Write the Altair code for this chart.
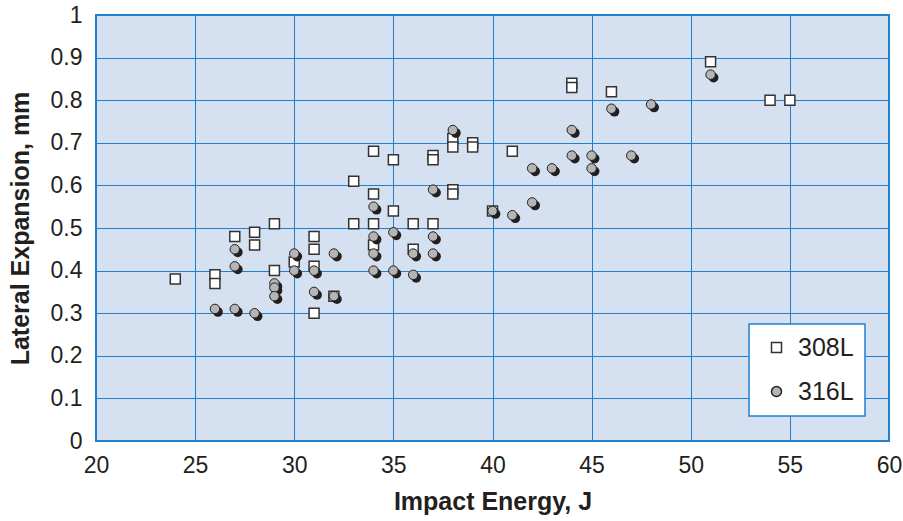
import altair as alt
import pandas as pd

# 308L data (Impact Energy J, Lateral Expansion mm)
x308 = [24, 26, 26, 27, 28, 28, 29, 29, 30, 31,
        31, 31, 31, 32, 33, 33, 34, 34, 34, 34,
        35, 35, 36, 36, 37, 37, 37, 38, 38, 38,
        38, 39, 39, 40, 41, 44, 44, 46, 51, 54,
        55]
y308 = [0.38, 0.39, 0.37, 0.48, 0.49, 0.46, 0.51, 0.40, 0.42, 0.48,
        0.45, 0.41, 0.30, 0.34, 0.61, 0.51, 0.68, 0.58, 0.51, 0.46,
        0.66, 0.54, 0.51, 0.45, 0.67, 0.66, 0.51, 0.71, 0.69, 0.59,
        0.58, 0.70, 0.69, 0.54, 0.68, 0.84, 0.83, 0.82, 0.89, 0.80,
        0.80]

# 316L data
x316 = [26, 27, 27, 27, 28, 29, 29, 29, 30, 30,
        31, 31, 32, 32, 34, 34, 34, 34, 35, 35,
        36, 36, 37, 37, 37, 38, 40, 41, 42, 42,
        43, 44, 44, 45, 45, 46, 47, 48, 51]
y316 = [0.31, 0.45, 0.41, 0.31, 0.30, 0.37, 0.36, 0.34, 0.44, 0.40,
        0.40, 0.35, 0.44, 0.34, 0.55, 0.48, 0.44, 0.40, 0.49, 0.40,
        0.44, 0.39, 0.59, 0.48, 0.44, 0.73, 0.54, 0.53, 0.64, 0.56,
        0.64, 0.73, 0.67, 0.67, 0.64, 0.78, 0.67, 0.79, 0.86]

series = ["308L", "316L"]
x_ticks = [20, 25, 30, 35, 40, 45, 50, 55, 60]
y_ticks = [0, 0.1, 0.2, 0.3, 0.4, 0.5, 0.6, 0.7, 0.8, 0.9, 1]

df308 = pd.DataFrame({"energy": x308, "lat": y308, "alloy": series[0]})
df316 = pd.DataFrame({"energy": x316, "lat": y316, "alloy": series[1]})

FONT = "Liberation Sans"
TXT = "#231f20"
BLUE = "#1f80d0"

xenc = alt.X("energy:Q",
             scale=alt.Scale(domain=[20, 60], nice=False, zero=False),
             axis=alt.Axis(values=x_ticks, title="Impact Energy, J",
                           labelFontSize=23, titleFontSize=25, labelPadding=13,
                           titlePadding=12, ticks=False, domain=False,
                           labelFlush=False))
yenc = alt.Y("lat:Q",
             scale=alt.Scale(domain=[0, 1], nice=False),
             axis=alt.Axis(values=y_ticks, format="~g", title="Lateral Expansion, mm",
                           labelFontSize=23, titleFontSize=25, labelPadding=14,
                           titlePadding=17, ticks=False, domain=False,
                           labelFlush=False))

shape_scale = alt.Scale(domain=series, range=["square", "circle"])
fill_scale = alt.Scale(domain=series, range=["#ffffff", "#b5b5b5"])
stroke_scale = alt.Scale(domain=series, range=["#333333", "#222222"])

legend = alt.Legend(title=None, orient="none", legendX=653, legendY=309,
                    labelFontSize=25, labelFont=FONT, labelColor=TXT,
                    symbolSize=100, symbolStrokeWidth=1.5,
                    padding=11, symbolOffset=4, labelOffset=9, rowPadding=18,
                    strokeColor=BLUE, fillColor="white")

enc_series = dict(
    shape=alt.Shape("alloy:N", scale=shape_scale, legend=legend),
    fill=alt.Fill("alloy:N", scale=fill_scale, legend=legend),
    stroke=alt.Stroke("alloy:N", scale=stroke_scale, legend=legend),
)

squares = alt.Chart(df308).mark_point(filled=True, size=100,
                                      strokeWidth=1.5, opacity=1).encode(
    x=xenc, y=yenc, **enc_series
)

shadows = alt.Chart(df316).mark_circle(size=95, color="#231f20", opacity=1,
                                       xOffset=3, yOffset=3).encode(
    x=xenc, y=yenc,
)

circles = alt.Chart(df316).mark_point(filled=True, size=90,
                                      strokeWidth=1, opacity=1).encode(
    x=xenc, y=yenc, **enc_series
)

chart = alt.layer(squares, shadows, circles).properties(
    width=793, height=426,
    autosize=alt.AutoSizeParams(type="none"),
    padding={"left": 96, "top": 15, "right": 14, "bottom": 80},
    background="white",
).configure_view(
    fill="#d5e0f1", stroke=BLUE, strokeWidth=2,
).configure_axis(
    grid=True, gridColor=BLUE, gridWidth=1, gridOpacity=1,
    labelFont=FONT, titleFont=FONT, labelColor=TXT, titleColor=TXT,
    titleFontWeight="bold",
).configure_legend(
    strokeWidth=1.5,
)

chart.save("out.html", embed_options={"renderer": "svg", "actions": False})
